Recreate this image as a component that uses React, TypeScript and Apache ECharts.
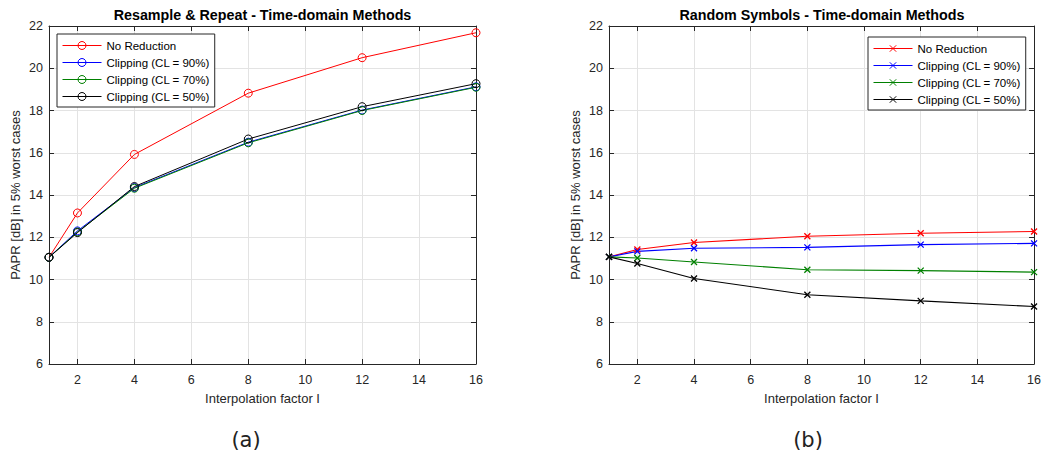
import React, { useEffect, useRef } from "react";
import * as echarts from "echarts";

const factors = [1, 2, 4, 8, 12, 16];
const xTicks = [2, 4, 6, 8, 10, 12, 14, 16];
const seriesNames = ["No Reduction", "Clipping (CL = 90%)", "Clipping (CL = 70%)", "Clipping (CL = 50%)"];
const seriesColors = ["#ff0000", "#0000ff", "#008000", "#000000"];

// (a) Resample & Repeat
const aNoReduction = [11.05, 13.15, 15.92, 18.82, 20.5, 21.68];
const aClip90 = [11.05, 12.3, 14.35, 16.5, 18.02, 19.12];
const aClip70 = [11.05, 12.25, 14.32, 16.47, 18.0, 19.1];
const aClip50 = [11.05, 12.22, 14.4, 16.65, 18.18, 19.27];

// (b) Random Symbols
const bNoReduction = [11.07, 11.42, 11.75, 12.05, 12.19, 12.27];
const bClip90 = [11.07, 11.33, 11.48, 11.52, 11.65, 11.71];
const bClip70 = [11.07, 11.02, 10.83, 10.46, 10.42, 10.35];
const bClip50 = [11.07, 10.76, 10.05, 9.28, 8.99, 8.72];

const titleA = "Resample & Repeat - Time-domain Methods";
const titleB = "Random Symbols - Time-domain Methods";
const xName = "Interpolation factor I";
const yName = "PAPR [dB] in 5% worst cases";

const FONT = "'Liberation Sans', Arial, Helvetica, sans-serif";
const AX = "#262626";
const GRIDC = "#e3e3e3";
const CROSS = "path://M0,0L10,10M0,10L10,0";

export default function App() {
  const ref = useRef<HTMLDivElement>(null);
  useEffect(() => {
    document.body.style.margin = "0";
    const chart = echarts.init(ref.current!, null, { renderer: "svg" });

    const grids = [
      { left: 49, top: 26, width: 427, height: 338 },
      { left: 609, top: 26, width: 426, height: 338 },
    ];

    const xAxes: any[] = [];
    const yAxes: any[] = [];
    grids.forEach((_, gi) => {
      xAxes.push({
        type: "value", gridIndex: gi, position: "bottom", min: 1, max: 16,
        name: xName, nameLocation: "middle", nameGap: 28,
        nameTextStyle: { color: AX, fontSize: 13, fontFamily: FONT },
        axisLine: { show: true, lineStyle: { color: AX, width: 1 } },
        axisTick: { show: true, inside: true, length: 5, customValues: xTicks, lineStyle: { color: AX } },
        axisLabel: { show: true, customValues: xTicks, color: AX, fontSize: 12.5, fontFamily: FONT, margin: 9 },
        splitLine: { show: true, lineStyle: { color: GRIDC, width: 1 } },
      });
      xAxes.push({
        type: "value", gridIndex: gi, position: "top", min: 1, max: 16,
        axisLine: { show: true, onZero: false, lineStyle: { color: AX, width: 1 } },
        axisTick: { show: true, inside: true, length: 5, customValues: xTicks, lineStyle: { color: AX } },
        axisLabel: { show: false },
        splitLine: { show: false },
      });
      yAxes.push({
        type: "value", gridIndex: gi, position: "left", min: 6, max: 22, interval: 2,
        name: yName, nameLocation: "middle", nameGap: 27,
        nameTextStyle: { color: AX, fontSize: 13, fontFamily: FONT },
        axisLine: { show: true, lineStyle: { color: AX, width: 1 } },
        axisTick: { show: true, inside: true, length: 5, lineStyle: { color: AX } },
        axisLabel: { show: true, color: AX, fontSize: 12.5, fontFamily: FONT, margin: 6 },
        splitLine: { show: true, lineStyle: { color: GRIDC, width: 1 } },
      });
      yAxes.push({
        type: "value", gridIndex: gi, position: "right", min: 6, max: 22, interval: 2,
        axisLine: { show: true, onZero: false, lineStyle: { color: AX, width: 1 } },
        axisTick: { show: true, inside: true, length: 5, lineStyle: { color: AX } },
        axisLabel: { show: false },
        splitLine: { show: false },
      });
    });

    const aData = [aNoReduction, aClip90, aClip70, aClip50];
    const bData = [bNoReduction, bClip90, bClip70, bClip50];

    const series: any[] = [];
    aData.forEach((vals, i) => {
      series.push({
        type: "line", name: seriesNames[i], xAxisIndex: 0, yAxisIndex: 0,
        data: factors.map((f, k) => [f, vals[k]]),
        symbol: "circle", symbolSize: 8,
        itemStyle: { color: "rgba(255,255,255,0)", borderColor: seriesColors[i], borderWidth: 1 },
        lineStyle: { color: seriesColors[i], width: 1 },
        emphasis: { disabled: true },
      });
    });
    bData.forEach((vals, i) => {
      series.push({
        type: "line", name: "b:" + seriesNames[i], xAxisIndex: 2, yAxisIndex: 2,
        data: factors.map((f, k) => [f, vals[k]]),
        symbol: CROSS, symbolSize: 6,
        itemStyle: { color: seriesColors[i], borderColor: seriesColors[i], borderWidth: 1.3 },
        lineStyle: { color: seriesColors[i], width: 1.1 },
        emphasis: { disabled: true },
      });
    });

    const legendCommon = {
      orient: "vertical",
      backgroundColor: "#ffffff",
      borderColor: AX,
      borderWidth: 1,
      borderRadius: 0,
      padding: [5, 5, 4, 5],
      itemWidth: 39,
      itemHeight: 8,
      itemGap: 4,
      lineStyle: { width: 1 },
      itemStyle: { borderWidth: 1 },
      textStyle: { color: "#000", fontSize: 11.5, fontFamily: FONT, lineHeight: 13 },
      selectedMode: false,
    };

    chart.setOption({
      animation: false,
      backgroundColor: "#ffffff",
      grid: grids.map((g) => ({ ...g, containLabel: false })),
      xAxis: xAxes,
      yAxis: yAxes,
      legend: [
        { ...legendCommon, itemHeight: 10, left: 57, top: 34, data: seriesNames },
        {
          ...legendCommon, left: 868, top: 37,
          data: seriesNames.map((n) => "b:" + n),
          formatter: (n: string) => n.replace(/^b:/, ""),
        },
      ],
      series,
      graphic: [
        { type: "text", x: 262.5, y: 15, style: { text: titleA, align: "center", verticalAlign: "middle", fill: "#000", font: `bold 14.3px ${FONT}` } },
        { type: "text", x: 822, y: 15, style: { text: titleB, align: "center", verticalAlign: "middle", fill: "#000", font: `bold 14.3px ${FONT}` } },
        { type: "text", x: 246, y: 440, style: { text: "(a)", align: "center", verticalAlign: "middle", fill: "#222", font: `21px 'DejaVu Sans', sans-serif` } },
        { type: "text", x: 808, y: 440, style: { text: "(b)", align: "center", verticalAlign: "middle", fill: "#222", font: `21px 'DejaVu Sans', sans-serif` } },
      ],
    });
    return () => chart.dispose();
  }, []);
  return <div ref={ref} style={{ width: 1044, height: 460 }} />;
}
